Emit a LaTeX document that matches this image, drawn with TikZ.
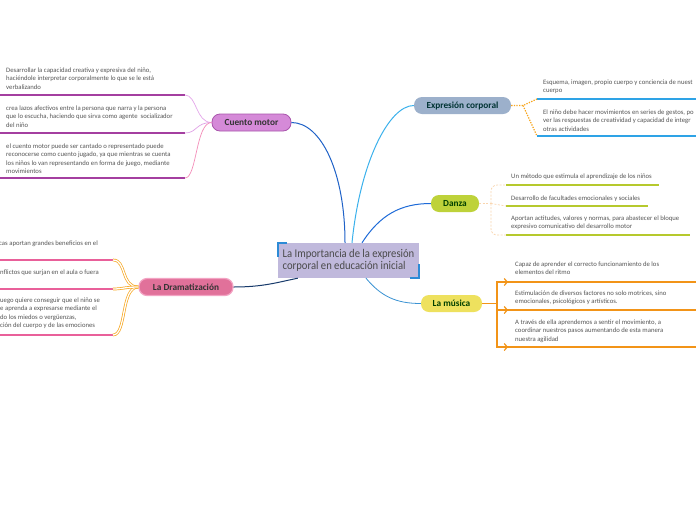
\documentclass[tikz,border=0pt]{standalone}
\usepackage{fontspec}
\setmainfont{Carlito}
\newfontfamily\titlefont{Carlito}[FakeStretch=0.9]
\usetikzlibrary{arrows.meta}
\definecolor{cuentofill}{HTML}{D58AD8}
\definecolor{cuentodraw}{HTML}{A955AC}
\definecolor{dramfill}{HTML}{E1719A}
\definecolor{dramdraw}{HTML}{F3A3C3}
\definecolor{exfill}{HTML}{9CB0CB}
\definecolor{dzfill}{HTML}{BED23A}
\definecolor{mufill}{HTML}{EEE15E}
\definecolor{centerfill}{HTML}{C0B9DC}
\definecolor{bracketblue}{HTML}{2D8BD6}
\definecolor{cconn}{HTML}{1F62C8}
\definecolor{exconnc}{HTML}{3BB1EC}
\definecolor{dzconnc}{HTML}{1E6BD8}
\definecolor{muconnc}{HTML}{3B93D3}
\definecolor{dramconnc}{HTML}{173A6B}
\definecolor{cuentoline}{HTML}{A43FA0}
\definecolor{dramline}{HTML}{E9609A}
\definecolor{exline}{HTML}{2EA3E6}
\definecolor{dzline}{HTML}{B6C92D}
\definecolor{muline}{HTML}{F29418}
\definecolor{cleafA}{HTML}{E4A6EA}
\definecolor{cleafB}{HTML}{E0A0E6}
\definecolor{cleafC}{HTML}{F48DB9}
\definecolor{orangeA}{HTML}{F7A51C}
\definecolor{peach}{HTML}{F9D5AE}
\definecolor{leafgray}{HTML}{555555}
\definecolor{centertext}{HTML}{4A4A4A}
\begin{document}
\begin{tikzpicture}[x=1pt,y=-1pt,
  leaftext/.style={anchor=north west, inner sep=0pt, align=left, font=\fontsize{6.7}{8.4}\selectfont, text=leafgray},
  branch/.style={rounded corners=8pt, minimum height=17pt, inner sep=0pt, font=\fontsize{9.3}{10}\selectfont\bfseries},
  uline/.style={line width=2pt},
  mainconn/.style={line width=1pt},
  centernode/.style={fill=centerfill, minimum width=141pt, minimum height=35pt, inner sep=0pt, align=left, text=centertext, font=\titlefont\fontsize{11.8}{12.2}\selectfont},
  bracket/.style={draw=bracketblue, line width=2pt},
  dramconn/.style={draw=orangeA, double=white, double distance=1.3pt, line width=0.7pt},
  exconn/.style={draw=orangeA, line width=1.2pt, dash pattern=on 1.3pt off 1.3pt},
  dzconn/.style={draw=peach, line width=0.7pt, dash pattern=on 2pt off 1.5pt},
  muconn/.style={draw=muline, line width=1.2pt}
]
\useasboundingbox (0,0) rectangle (696,520);
\fill[white] (0,0) rectangle (696,520);

% central node
\node[centernode] (c) at (348.5,260.5) {La Importancia de la expresión\\corporal en educación inicial};
\draw[bracket] ([xshift=9pt]c.north west) -- (c.north west) -- ([yshift=-14pt]c.north west);
\draw[bracket] ([xshift=-9pt]c.south east) -- (c.south east) -- ([yshift=14pt]c.south east);

% branch nodes
\node[branch, fill=cuentofill, draw=cuentodraw, line width=0.8pt, minimum width=79pt, text=black!80] (cm) at (251.5,122.5) {Cuento motor};
\node[branch, fill=dramfill, draw=dramdraw, line width=1.2pt, minimum width=94pt, text=black!80] (dm) at (186,287) {La Dramatización};
\node[branch, fill=exfill, minimum width=97pt, text=teal!40!black] (em) at (462.5,105.5) {Expresión corporal};
\node[branch, fill=dzfill, minimum width=48pt, text=green!25!black] (dz) at (455,203.5) {Danza};
\node[branch, fill=mufill, minimum width=61pt, text=green!25!black] (mu) at (451.5,303.5) {La música};

% main connectors
\draw[mainconn, cconn] (cm.east) .. controls +(30,0) and +(0,-70) .. ([xshift=-3.5pt]c.north);
\draw[mainconn, exconnc] ([xshift=3.5pt]c.north) .. controls +(8,-80) and +(-25,0) .. (em.west);
\draw[mainconn, dzconnc] ([xshift=13.5pt]c.north) .. controls +(18,-28) and +(-30,0) .. (dz.west);
\draw[line width=0.8pt, muconnc] ([xshift=17.5pt]c.south) .. controls +(15,18) and +(-25,0) .. (mu.west);
\draw[mainconn, dramconnc] (dm.east) .. controls +(30,0) and +(-20,4) .. ([xshift=20pt]c.south west);

% ---- Cuento motor leaves
\coordinate (cl1) at (185,95);
\coordinate (cl2) at (185,133);
\coordinate (cl3) at (185,178);
\node[leaftext] (ct1) at (6,67.5) {Desarrollar la capacidad creativa y expresiva del niño,\\haciéndole interpretar corporalmente lo que se le está\\verbalizando};
\node[leaftext] (ct2) at (6,105.5) {crea lazos afectivos entre la persona que narra y la persona\\que lo escucha, haciendo que sirva como agente\ \ socializador\\del niño};
\node[leaftext] (ct3) at (6,143.5) {el cuento motor puede ser cantado o representado puede\\reconocerse como cuento jugado, ya que mientras se cuenta\\los niños lo van representando en forma de juego, mediante\\movimientos};
\draw[uline, cuentoline] (0,95) -- (cl1);
\draw[uline, cuentoline] (0,133) -- (cl2);
\draw[uline, cuentoline] (0,178) -- (cl3);
\draw[line width=0.7pt, cleafA] (cm.west) .. controls +(-16,0) and +(12,0) .. (cl1);
\draw[line width=0.7pt, cleafB] (cm.west) .. controls +(-16,0) and +(12,0) .. (cl2);
\draw[line width=0.7pt, cleafC] (cm.west) .. controls +(-16,0) and +(12,0) .. (cl3);

% ---- Dramatización leaves
\coordinate (dl1) at (113,260);
\coordinate (dl2) at (113,289);
\coordinate (dl3) at (113,335);
\node[leaftext] (dt1) at (-1,240.5) {cas aportan grandes beneficios en el};
\node[leaftext] (dt2) at (0,269.5) {nflictos que surjan en el aula o fuera};
\node[leaftext] (dt3) at (0,297.5) {uego quiere conseguir que el niño se\\e aprenda a expresarse mediante el\\do los miedos o vergüenzas,\\ción del cuerpo y de las emociones};
\draw[uline, dramline] (0,260) -- (dl1);
\draw[uline, dramline] (0,289) -- (dl2);
\draw[uline, dramline] (0,335) -- (dl3);
\draw[dramconn] (dm.west) .. controls +(-18,0) and +(14,0) .. (dl1);
\draw[dramconn] (dm.west) .. controls +(-18,0) and +(14,0) .. (dl3);
\draw[dramconn] (dm.west) .. controls +(-14,0) and +(10,0) .. (dl2);

% ---- Expresión corporal leaves
\coordinate (ej) at (523,105.5);
\coordinate (el1) at (537,99);
\coordinate (el2) at (537,136);
\node[leaftext] (et1) at (543,79.5) {Esquema, imagen, propio cuerpo y conciencia de nuest\\cuerpo};
\node[leaftext] (et2) at (543,109.5) {El niño debe hacer movimientos en series de gestos, po\\ver las respuestas de creatividad y capacidad de integr\\otras actividades};
\draw[uline, exline] (el1) -- (696,99);
\draw[uline, exline] (el2) -- (696,136);
\draw[exconn] (em.east) -- (ej) -- (el1);
\draw[exconn] (ej) -- (el2);

% ---- Danza leaves
\coordinate (dj) at (491,203.5);
\coordinate (zl1) at (506,185);
\coordinate (zl2) at (506,206);
\coordinate (zl3) at (506,235);
\node[leaftext] (zt1) at (511,173.5) {Un método que estimula el aprendizaje de los niños};
\node[leaftext] (zt2) at (511,195.5) {Desarrollo de facultades emocionales y sociales};
\node[leaftext] (zt3) at (511,215.5) {Aportan actitudes, valores y normas, para abastecer el bloque\\expresivo comunicativo del desarrollo motor};
\draw[uline, dzline] (zl1) -- (659,185);
\draw[uline, dzline] (zl2) -- (648,206);
\draw[uline, dzline] (zl3) -- (690,235);
\draw[dzconn] (dz.east) -- (dj);
\draw[dzconn, rounded corners=6pt] (dj) |- (zl1);
\draw[dzconn] (dj) -- (zl2);
\draw[dzconn, rounded corners=6pt] (dj) |- (zl3);

% ---- La música leaves
\coordinate (mj) at (497,303.5);
\coordinate (ml1) at (508,282);
\coordinate (ml2) at (508,310);
\coordinate (ml3) at (508,347);
\node[leaftext] (mt1) at (515,261.5) {Capaz de aprender el correcto funcionamiento de los\\elementos del ritmo};
\node[leaftext] (mt2) at (515,290.5) {Estimulación de diversos factores no solo motrices, sino\\emocionales, psicológicos y artísticos.};
\node[leaftext] (mt3) at (515,319.5) {A través de ella aprendemos a sentir el movimiento, a\\coordinar nuestros pasos aumentando de esta manera\\nuestra agilidad};
\draw[uline, muline] (497,282) -- (696,282);
\draw[uline, muline] (497,310) -- (696,310);
\draw[uline, muline] (497,347) -- (696,347);
\draw[muconn] (mu.east) -- (mj);
\draw[muconn, -{Straight Barb[length=3pt,width=7pt]}] (mj) |- (ml1);
\draw[muconn, -{Straight Barb[length=3pt,width=7pt]}] (mj) |- (ml2);
\draw[muconn, -{Straight Barb[length=3pt,width=7pt]}] (mj) |- (ml3);
\end{tikzpicture}
\end{document}
